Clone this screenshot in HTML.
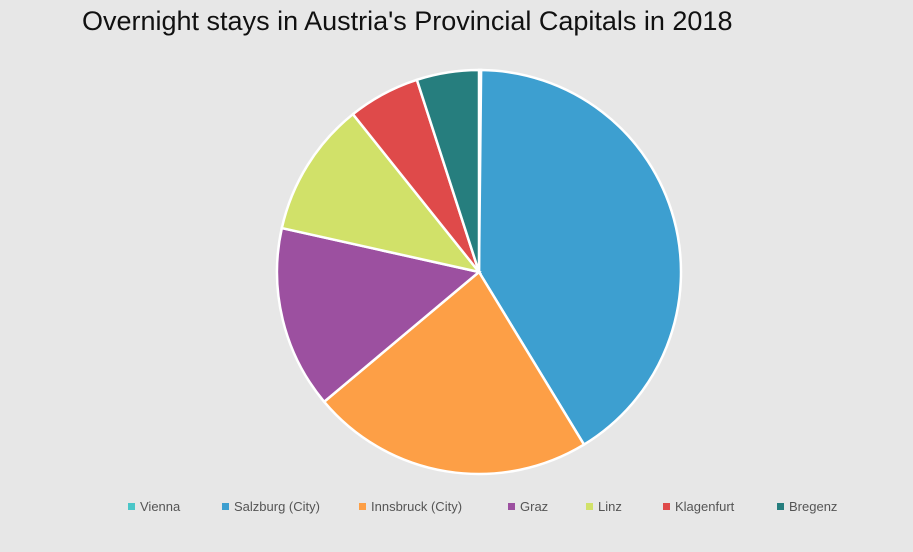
<!DOCTYPE html>
<html><head><meta charset="utf-8"><style>
body{margin:0;width:913px;height:547px;background:#e7e7e7;overflow:hidden;font-family:"Liberation Sans",sans-serif}
</style></head><body>
<svg width="913" height="547">
<text x="82" y="30" font-size="27" fill="#111">Overnight stays in Austria's Provincial Capitals in 2018</text>
<g id="slices"></g>
<g id="legend"></g>
</svg>
<script>
const categories=["Vienna","Salzburg (City)","Innsbruck (City)","Graz","Linz","Klagenfurt","Bregenz"];
const values=[0.6,148,81.3,52.5,38.8,20.7,17.9];
const colors=["#4bc6c8","#3d9fd0","#fd9f46","#9c50a0","#d1e169","#df4a4a","#267e7e"];
const cx=479,cy=272,r=202;
const NS="http://www.w3.org/2000/svg";
const total=values.reduce((a,b)=>a+b,0);
const g=document.getElementById('slices');
let a0=0;
function pt(a){return [cx+r*Math.sin(a),cy-r*Math.cos(a)];}
values.forEach((v,i)=>{
  const a1=a0+v/total*2*Math.PI;
  const p0=pt(a0),p1=pt(a1);
  const p=document.createElementNS(NS,'path');
  p.setAttribute('d',`M${cx},${cy}L${p0[0]},${p0[1]}A${r},${r} 0 ${a1-a0>Math.PI?1:0} 1 ${p1[0]},${p1[1]}Z`);
  p.setAttribute('fill',colors[i]);p.setAttribute('stroke','#fff');p.setAttribute('stroke-width','2.5');
  
  
  g.appendChild(p);a0=a1;
});
const lx=[128,222,359,508,586,663,777];
const lg=document.getElementById('legend');
categories.forEach((c,i)=>{
  const e=document.createElementNS(NS,'g');
  
  
  const s=document.createElementNS(NS,'rect');
  s.setAttribute('x',lx[i]);s.setAttribute('y',503);s.setAttribute('width',7);s.setAttribute('height',7);s.setAttribute('fill',colors[i]);
  const t=document.createElementNS(NS,'text');
  t.setAttribute('x',lx[i]+12);t.setAttribute('y',511);t.setAttribute('font-size','13');t.setAttribute('fill','#555');
  t.textContent=c;
  e.appendChild(s);e.appendChild(t);lg.appendChild(e);
});
</script>
</body></html>
